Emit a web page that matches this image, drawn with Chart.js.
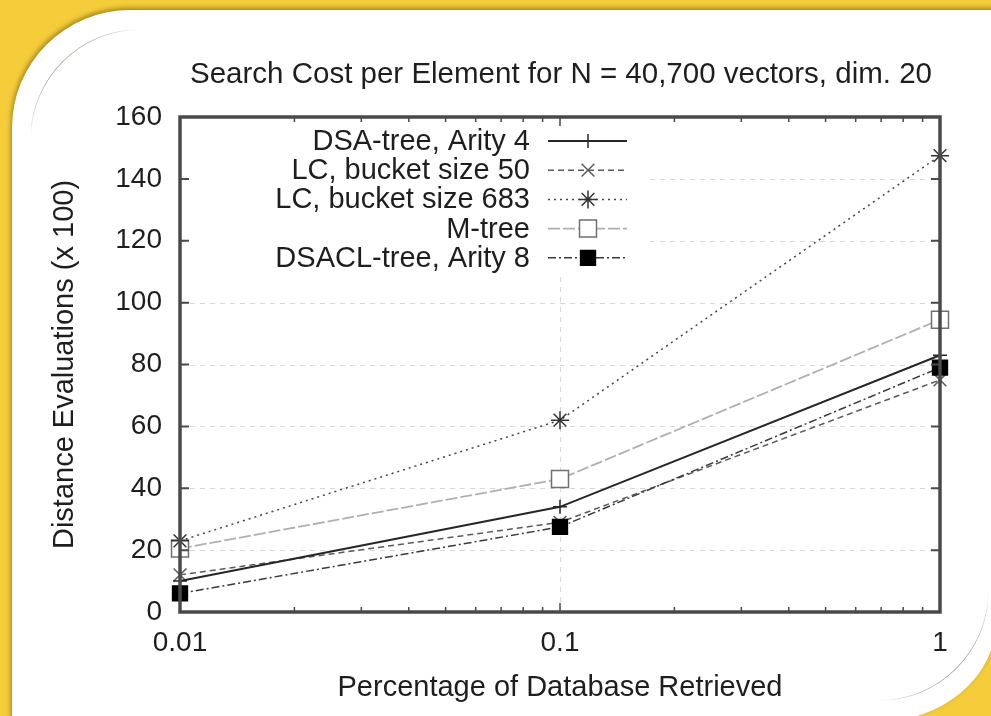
<!DOCTYPE html>
<html>
<head>
<meta charset="utf-8">
<title>Search Cost per Element</title>
<script src="https://cdn.jsdelivr.net/npm/chart.js@4.4.0/dist/chart.umd.min.js"></script>
<style>
  html, body { margin: 0; padding: 0; }
  body {
    width: 991px; height: 716px; overflow: hidden; position: relative;
    background: #f5cd3a;
  }
  #panel {
    position: absolute; left: 12px; top: 10px; width: 984px; height: 712px;
    background: #fff;
    border-top-left-radius: 118px;
    border-bottom-right-radius: 120px 100px;
    box-shadow: -1px -2px 5px rgba(90, 65, 0, 0.55);
  }
  .arc { position: absolute; width: 130px; height: 130px; }
  #arcTL {
    left: 30px; top: 29px;
    border-top: 1px solid #aaa69a; border-left: 1px solid #aaa69a;
    border-top-left-radius: 110px;
    -webkit-mask-image: radial-gradient(circle at 0 0, #000 45px, transparent 112px);
    mask-image: radial-gradient(circle at 0 0, #000 45px, transparent 112px);
  }
  #arcBR {
    left: 858px; top: 570px;
    border-bottom: 1px solid #aaa69a; border-right: 1px solid #aaa69a;
    border-bottom-right-radius: 110px;
    -webkit-mask-image: radial-gradient(circle at 100% 100%, #000 45px, transparent 112px);
    mask-image: radial-gradient(circle at 100% 100%, #000 45px, transparent 112px);
  }
  #chart { position: absolute; left: 0; top: 0; }
</style>
</head>
<body>
<div id="panel"></div>
<div class="arc" id="arcTL"></div>
<div class="arc" id="arcBR"></div>
<canvas id="chart" width="991" height="716"></canvas>
<script>
// fraction of the database retrieved (log axis)
const xValues = [0.01, 0.1, 1];
const xTicks = [0.01, 0.1, 1];
const xTickLabels = ['0.01', '0.1', '1'];
const yTicks = [0, 20, 40, 60, 80, 100, 120, 140, 160];

// distance evaluations, in hundreds
const dsaTree4 = [10, 34, 83];
const lcBucket50 = [12, 29, 75];
const lcBucket683 = [23, 62, 147.5];
const mTree = [20.5, 43, 94.5];
const dsaclTree8 = [6, 27.5, 79];

const seriesLabels = [
    'DSA-tree, Arity 4',
    'LC, bucket size 50',
    'LC, bucket size 683',
    'M-tree',
    'DSACL-tree, Arity 8'
];

const chartTitle = 'Search Cost per Element for N = 40,700 vectors, dim. 20';

const textColor = '#1e1e1e';
const fontFamily = '"Liberation Sans", Arial, Helvetica, sans-serif';

function toPoints(ys) {
    return xValues.map((x, i) => ({ x: x, y: ys[i] }));
}

// gnuplot-like frame: dashed grid, opaque key box, inward ticks, border, key, title
const gnuplotFrame = {
    id: 'gnuplotFrame',
    beforeDatasetsDraw(chart) {
        const ctx = chart.ctx;
        const area = chart.chartArea;
        const xs = chart.scales.x, ys = chart.scales.y;
        ctx.save();
        ctx.strokeStyle = '#d8d8d8';
        ctx.lineWidth = 1;
        ctx.setLineDash([5, 5]);
        yTicks.slice(1, -1).forEach(v => {
            const y = Math.round(ys.getPixelForValue(v)) + 0.5;
            ctx.beginPath();
            ctx.moveTo(area.left, y);
            ctx.lineTo(area.right, y);
            ctx.stroke();
        });
        xTicks.slice(1, -1).forEach(v => {
            const x = Math.round(xs.getPixelForValue(v)) + 0.5;
            ctx.beginPath();
            ctx.moveTo(x, area.top);
            ctx.lineTo(x, area.bottom);
            ctx.stroke();
        });
        // key box is opaque
        ctx.fillStyle = '#fff';
        ctx.fillRect(area.left + 4, area.top + 4, 462, 154);
        ctx.restore();
    },
    afterDatasetsDraw(chart) {
        const ctx = chart.ctx;
        const area = chart.chartArea;
        const xs = chart.scales.x, ys = chart.scales.y;
        ctx.save();
        ctx.strokeStyle = '#4a4a4a';
        ctx.setLineDash([]);

        // y ticks, left and right
        ctx.lineWidth = 2;
        yTicks.slice(1, -1).forEach(v => {
            const y = ys.getPixelForValue(v);
            ctx.beginPath();
            ctx.moveTo(area.left, y); ctx.lineTo(area.left + 9, y);
            ctx.moveTo(area.right, y); ctx.lineTo(area.right - 9, y);
            ctx.stroke();
        });

        // x ticks (major + log minor), bottom and top
        ctx.lineWidth = 1.5;
        [-2, -1].forEach(e => {
            for (let k = 1; k <= 9; k++) {
                const v = k * Math.pow(10, e);
                const x = xs.getPixelForValue(v);
                const len = k === 1 ? 9 : 5;
                ctx.beginPath();
                ctx.moveTo(x, area.bottom); ctx.lineTo(x, area.bottom - len);
                ctx.moveTo(x, area.top); ctx.lineTo(x, area.top + len);
                ctx.stroke();
            }
        });

        // border
        ctx.lineWidth = 3.5;
        ctx.strokeRect(area.left, area.top, area.right - area.left, area.bottom - area.top);

        // title, centred over the plot area
        ctx.font = '29.5px ' + fontFamily;
        ctx.fillStyle = textColor;
        ctx.textAlign = 'center';
        ctx.textBaseline = 'middle';
        ctx.fillText(chartTitle, (area.left + area.right) / 2 + 1, 75);

        // key: right-aligned text, sample line and marker
        ctx.font = '29px ' + fontFamily;
        ctx.textAlign = 'right';
        chart.data.datasets.forEach((ds, i) => {
            const y = area.top + 24 + i * 29.2;
            ctx.fillStyle = textColor;
            ctx.fillText(ds.label, area.left + 350, y + 1);

            ctx.strokeStyle = ds.borderColor;
            ctx.lineWidth = ds.borderWidth;
            ctx.setLineDash(ds.borderDash || []);
            ctx.beginPath();
            ctx.moveTo(area.left + 368, y);
            ctx.lineTo(area.left + 447, y);
            ctx.stroke();

            ctx.setLineDash([]);
            ctx.strokeStyle = ds.pointBorderColor;
            ctx.fillStyle = ds.pointBackgroundColor;
            ctx.lineWidth = ds.pointBorderWidth;
            Chart.helpers.drawPoint(ctx, {
                pointStyle: ds.pointStyle,
                radius: ds.pointRadius,
                rotation: 0,
                borderWidth: ds.pointBorderWidth
            }, area.left + 408, y);
        });
        ctx.restore();
    }
};

const seriesStyles = [
    { color: '#262626', dash: [], width: 2, point: 'cross', radius: 7, pointFill: '#262626', pointBorder: '#262626', order: 1 },
    { color: '#5a5a5a', dash: [6, 4], width: 1.5, point: 'crossRot', radius: 9, pointFill: '#5a5a5a', pointBorder: '#5a5a5a', order: 2 },
    { color: '#444444', dash: [2, 4], width: 1.5, point: 'star', radius: 9, pointFill: '#333333', pointBorder: '#333333', order: 3 },
    { color: '#b0b0b0', dash: [12, 3], width: 1.8, point: 'rect', radius: 12, pointFill: '#ffffff', pointBorder: '#707070', order: 4 },
    { color: '#3a3a3a', dash: [8, 3, 2, 3], width: 1.5, point: 'rect', radius: 10.5, pointFill: '#000000', pointBorder: '#000000', order: 0 }
];

const seriesValues = [dsaTree4, lcBucket50, lcBucket683, mTree, dsaclTree8];

const datasets = seriesValues.map((vals, i) => {
    const s = seriesStyles[i];
    return {
        label: seriesLabels[i],
        data: toPoints(vals),
        borderColor: s.color,
        borderWidth: s.width,
        borderDash: s.dash,
        fill: false,
        tension: 0,
        pointStyle: s.point,
        pointRadius: s.radius,
        pointHoverRadius: s.radius,
        pointBorderWidth: 1.5,
        pointBackgroundColor: s.pointFill,
        pointBorderColor: s.pointBorder,
        order: s.order,
        clip: false
    };
});

new Chart(document.getElementById('chart'), {
    type: 'line',
    data: { datasets: datasets },
    plugins: [gnuplotFrame],
    options: {
        responsive: false,
        animation: false,
        devicePixelRatio: 1,
        layout: { padding: { left: 0, right: 51, top: 117, bottom: 0 } },
        plugins: {
            legend: { display: false },
            tooltip: { enabled: false },
            title: { display: false }
        },
        scales: {
            x: {
                type: 'logarithmic',
                min: 0.01,
                max: 1,
                afterBuildTicks: scale => {
                    scale.ticks = xTicks.map(v => ({ value: v }));
                },
                afterFit: scale => { scale.height = 104; },
                ticks: {
                    autoSkip: false,
                    maxRotation: 0,
                    padding: 14,
                    color: textColor,
                    font: { family: fontFamily, size: 28 },
                    callback: v => xTickLabels[xTicks.indexOf(v)]
                },
                grid: { display: false, drawTicks: false },
                border: { display: false },
                title: {
                    display: true,
                    text: 'Percentage of Database Retrieved',
                    color: textColor,
                    font: { family: fontFamily, size: 29 },
                    padding: { top: 0, bottom: 10.6 }
                }
            },
            y: {
                min: 0,
                max: 160,
                afterBuildTicks: scale => {
                    scale.ticks = yTicks.map(v => ({ value: v }));
                },
                afterFit: scale => { scale.width = 180; },
                ticks: {
                    padding: 18,
                    color: textColor,
                    font: { family: fontFamily, size: 28 }
                },
                grid: { display: false, drawTicks: false },
                border: { display: false },
                title: {
                    display: true,
                    text: 'Distance Evaluations (x 100)',
                    color: textColor,
                    font: { family: fontFamily, size: 29 },
                    padding: { top: 47.6, bottom: 0 }
                }
            }
        }
    }
});
</script>
</body>
</html>
